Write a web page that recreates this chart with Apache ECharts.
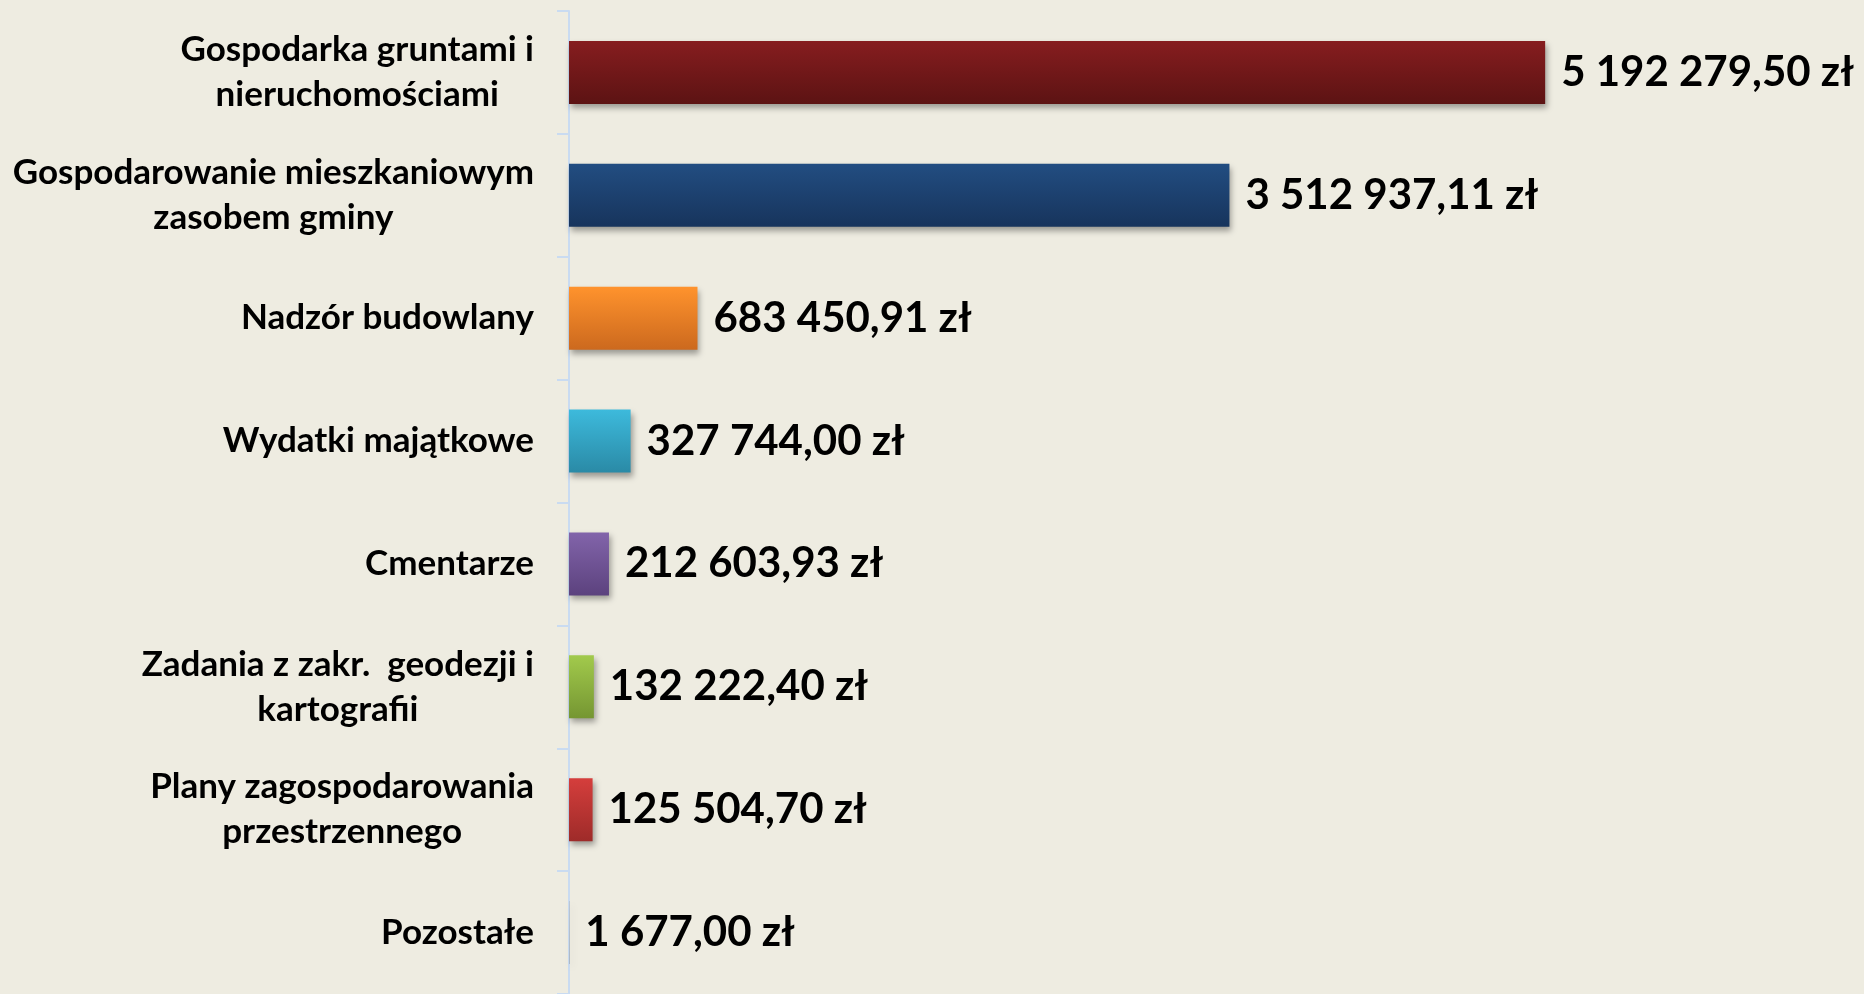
<!DOCTYPE html>
<html>
<head>
<meta charset="utf-8">
<script src="https://cdn.jsdelivr.net/npm/echarts@6/dist/echarts.min.js"></script>
<style>
  html, body { margin: 0; padding: 0; background: #EEECE1; }
  #chart { width: 1864px; height: 994px; }
</style>
</head>
<body>
<div id="chart"></div>
<script>
// categories, top to bottom
const categories = [
    'Gospodarka gruntami i\nnieruchomościami',
    'Gospodarowanie mieszkaniowym\nzasobem gminy',
    'Nadzór budowlany',
    'Wydatki majątkowe',
    'Cmentarze',
    'Zadania z zakr.  geodezji i\nkartografii',
    'Plany zagospodarowania\nprzestrzennego',
    'Pozostałe'
];
const values = [5192279.50, 3512937.11, 683450.91, 327744.00, 212603.93, 132222.40, 125504.70, 1677.00];

// top / bottom colour of each bar gradient
const colours = [
    ['#861D1F', '#5C1313'],
    ['#224D81', '#17345C'],
    ['#FF932D', '#CC691E'],
    ['#3DBADC', '#2A8AA6'],
    ['#8264AA', '#5C427E'],
    ['#A2CA4C', '#759632'],
    ['#D53E3C', '#9E2B29'],
    ['#9E9E9E', '#707070']
];

// 5192279.5 -> "5 192 279,50 zł"
function formatZl(v){
    let parts = v.toFixed(2).split('.');
    let intPart = parts[0].replace(/\B(?=(\d{3})+(?!\d))/g, ' ');
    return intPart + ',' + parts[1] + ' zł';
}

let sData = values.map((val, index)=>{
    return {
        value: val,
        itemStyle: {
            color: new echarts.graphic.LinearGradient(0, 0, 0, 1, [
                {offset: 0, color: colours[index][0]},
                {offset: 1, color: colours[index][1]}
            ])
        }
    };
});

let myChart = echarts.init(document.getElementById('chart'));
let option = {
    backgroundColor: '#EEECE1',
    animation: false,
    grid: {
        left: 569,
        top: 11,
        width: 1128,
        height: 987
    },
    xAxis: {
        type: 'value',
        min: 0,
        max: 6000000,
        show: false
    },
    yAxis: {
        type: 'category',
        inverse: true,
        data: categories,
        axisLine: {
            show: true,
            lineStyle: {color: '#C9DBF1', width: 2}
        },
        axisTick: {
            show: true,
            length: 12,
            lineStyle: {color: '#C9DBF1', width: 2}
        },
        axisLabel: {
            margin: 35,
            align: 'right',
            fontFamily: 'Lato',
            fontWeight: 'bold',
            fontSize: 35,
            color: '#000',
            lineHeight: 45,
            // center the lines of a label inside its block
            formatter: (val)=>val.split('\n').map(l=>'{c|' + l + '}').join('\n'),
            rich: {
                c: {
                    align: 'center',
                    fontFamily: 'Lato',
                    fontWeight: 'bold',
                    fontSize: 35,
                    lineHeight: 45,
                    color: '#000'
                }
            }
        }
    },
    series: [{
        type: 'bar',
        data: sData,
        barWidth: 63,
        itemStyle: {
            shadowColor: 'rgba(0,0,0,0.35)',
            shadowBlur: 6,
            shadowOffsetX: 2,
            shadowOffsetY: 4
        },
        label: {
            show: true,
            position: 'right',
            distance: 16,
            fontFamily: 'Lato',
            fontWeight: 'bold',
            fontSize: 42,
            color: '#000',
            formatter: (p)=>formatZl(p.value)
        }
    }]
};
myChart.setOption(option);
</script>
</body>
</html>
